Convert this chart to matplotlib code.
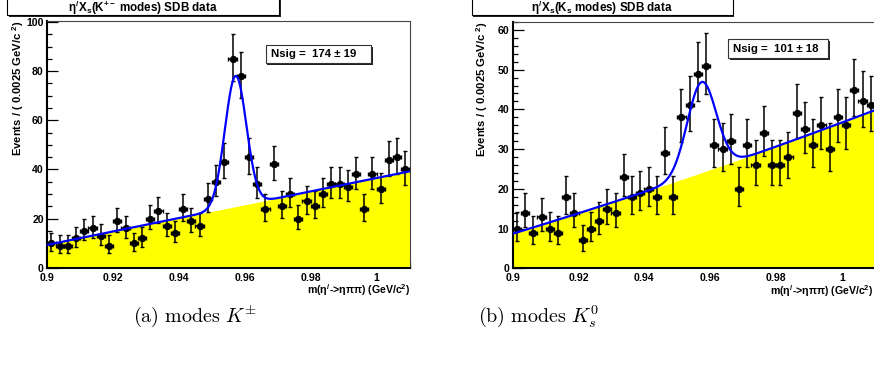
import numpy as np
import matplotlib
matplotlib.use("Agg")
import matplotlib.pyplot as plt
from matplotlib.patches import Rectangle

plt.rcParams['font.family'] = ['Liberation Sans', 'DejaVu Sans']
plt.rcParams['font.weight'] = 'bold'
plt.rcParams['mathtext.fontset'] = 'custom'
plt.rcParams['mathtext.rm'] = 'Liberation Sans:bold'
plt.rcParams['mathtext.bf'] = 'Liberation Sans:bold'
plt.rcParams['mathtext.it'] = 'Liberation Sans:bold'
plt.rcParams['mathtext.sf'] = 'Liberation Sans:bold'

# binning of m(eta' -> eta pi pi)
x_lo, x_hi, bin_w = 0.9, 1.01, 0.0025

# events per bin, K+- modes
counts_kpm = [10, 9, 9, 12, 15, 16, 13, 9, 19, 16, 10, 12, 20, 23, 17, 14, 24, 19, 17, 28,
              35, 43, 85, 78, 45, 34, 24, 42, 25, 30, 20, 27, 25, 30, 34, 34, 33, 38, 24, 38,
              32, 44, 45, 40]
# events per bin, Ks modes
counts_ks = [10, 14, 9, 13, 10, 9, 18, 14, 7, 10, 12, 15, 14, 23, 18, 19, 20, 18, 29, 18,
             38, 41, 49, 51, 31, 30, 32, 20, 31, 26, 34, 26, 26, 28, 39, 35, 31, 36, 30, 38,
             36, 45, 42, 41]

# fit results: background anchor points (x, y), gaussian mean, sigma, amplitude
bkg_kpm = ([0.9, 1.01], [9.3, 39.2])
sig_kpm = (0.9572, 0.00327, 53.2)
bkg_ks = ([0.9, 0.955, 1.01], [8.7, 23.4, 39.8])
sig_ks = (0.9574, 0.0044, 22.8)

titles = [r"$\eta^{/}$X$_{s}$(K$^{+-}$ modes) SDB data",
          r"$\eta^{/}$X$_{s}$(K$_{s}$ modes) SDB data"]
nsig_text = [u"Nsig =  174 \u00b1 19", u"Nsig =  101 \u00b1 18"]
captions = [r"$\mathrm{(a)\ modes\ }K^{\pm}$", r"$\mathrm{(b)\ modes\ }K_{s}^{0}$"]

W, H = 874, 379
fig = plt.figure(figsize=(W / 100, H / 100), dpi=100)


def fbox(x0, y0, x1, y1):
    # pixel box (from top-left) -> figure fraction [left, bottom, width, height]
    return [x0 / W, 1 - y1 / H, (x1 - x0) / W, (y1 - y0) / H]


def pave(x0, y0, x1, y1, edge='black'):
    s = fbox(x0 + 1.5, y0 + 1.5, x1 + 1.5, y1 + 1.5)
    sh = Rectangle((s[0], s[1]), s[2], s[3], transform=fig.transFigure,
                   facecolor='#222222', edgecolor='none', zorder=5)
    b = fbox(x0, y0, x1, y1)
    bx = Rectangle((b[0], b[1]), b[2], b[3], transform=fig.transFigure,
                   facecolor='white', edgecolor=edge, linewidth=0.8, zorder=6)
    fig.patches.extend([sh, bx])


panels = [
    dict(counts=counts_kpm, bkg=bkg_kpm, sig=sig_kpm, ax=fbox(47.3, 20.7, 409.5, 267.7),
         ymax=100.5, major=20, minor=5, title_box=(7.3, -5, 279.3, 15),
         nsig_box=(265.7, 45.3, 371, 63.3), ylab_x=-0.08, xlab_x=1.003, cap_x=195),
    dict(counts=counts_ks, bkg=bkg_ks, sig=sig_ks, ax=fbox(512.7, 21.7, 874.9, 268.3),
         ymax=62.07, major=10, minor=2, title_box=(471.7, -5, 732.7, 15),
         nsig_box=(728.3, 39, 828.3, 58.3), ylab_x=-0.085, xlab_x=0.995, cap_x=539),
]

for i, p in enumerate(panels):
    ax = fig.add_axes(p['ax'])
    ax.set_axisbelow(True)
    counts = np.array(p['counts'], dtype=float)
    xc = x_lo + bin_w * (np.arange(len(counts)) + 0.5)
    err_lo = np.sqrt(counts - 0.25)
    err_hi = np.sqrt(counts + 0.75) + 1

    xx = np.linspace(x_lo, x_hi, 600)
    deg = len(p['bkg'][0]) - 1
    bcoef = np.polyfit(p['bkg'][0], p['bkg'][1], deg)
    bkg = np.polyval(bcoef, xx)
    mu, sg, amp = p['sig']
    total = bkg + amp * np.exp(-0.5 * ((xx - mu) / sg) ** 2)

    ax.fill_between(xx, 0, bkg, color='#ffff00', linewidth=0, zorder=2)
    ax.errorbar(xc, counts, yerr=[err_lo, err_hi], xerr=bin_w / 2, fmt='o', color='black',
                markersize=4.3, elinewidth=1.1, capsize=1.3, capthick=1.0, zorder=4)
    ax.plot(xx, total, color='#0000ff', linewidth=1.6, zorder=5)

    ax.set_xlim(x_lo, x_hi)
    ax.set_ylim(0, p['ymax'])
    ax.set_xticks([0.9, 0.92, 0.94, 0.96, 0.98, 1.0])
    ax.set_xticklabels(['0.9', '0.92', '0.94', '0.96', '0.98', '1'])
    ax.set_xticks(np.arange(0.9, 1.0101, 0.005), minor=True)
    ax.set_yticks(np.arange(0, p['ymax'], p['major']))
    ax.set_yticks(np.arange(0, p['ymax'], p['minor']), minor=True)
    ax.tick_params(axis='both', which='both', direction='in', top=False, right=False,
                   labelsize=7.6, width=0.9, colors='black')
    ax.tick_params(axis='y', which='major', length=8, pad=2.5)
    ax.tick_params(axis='y', which='minor', length=3.8)
    ax.tick_params(axis='x', which='major', length=8, pad=3.5)
    ax.tick_params(axis='x', which='minor', length=4)
    for lab in ax.get_xticklabels() + ax.get_yticklabels():
        lab.set_fontweight('bold')

    for s in ['left', 'bottom']:
        ax.spines[s].set_linewidth(1.5)
        ax.spines[s].set_color('black')
    for s in ['top', 'right']:
        ax.spines[s].set_linewidth(0.8)
        ax.spines[s].set_color('#444444')

    ax.text(p['ylab_x'], 1.0, r"Events / ( 0.0025 GeV/c $^{2}$)", rotation=90,
            transform=ax.transAxes, ha='center', va='top', fontsize=8.1, fontweight='bold')
    ax.text(p['xlab_x'], -0.091, r"m($\eta^{/}$->$\eta\pi\pi$) (GeV/c$^{2}$)",
            transform=ax.transAxes, ha='right', va='center', fontsize=7.6, fontweight='bold')

    # title pave
    tb = p['title_box']
    pave(*tb)
    fig.text((tb[0] + tb[2]) / 2 / W, 1 - 7.5 / H, titles[i], ha='center', va='center',
             fontsize=8.4, fontweight='bold', zorder=7)

    # Nsig pave
    nb = p['nsig_box']
    pave(*nb, edge='#333333')
    fig.text((nb[0] + 5) / W, 1 - (nb[1] + nb[3]) / 2 / H, nsig_text[i], ha='left', va='center',
             fontsize=8.2, fontweight='bold', zorder=7)

    # caption
    fig.text(p['cap_x'] / W, 1 - 316 / H, captions[i], ha='center', va='center',
             fontsize=14.5, math_fontfamily='cm', fontweight='normal')

fig.savefig('out.png', dpi=100)
